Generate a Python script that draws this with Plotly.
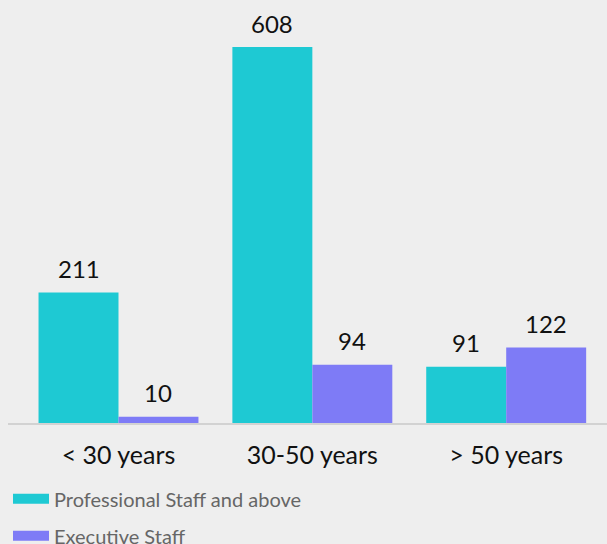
import plotly.graph_objects as go

categories = ["< 30 years", "30-50 years", "> 50 years"]
professional = [211, 608, 91]
executive = [10, 94, 122]
series_names = ["Professional Staff and above", "Executive Staff"]
colors = ["#1ec9d3", "#7e7bf6"]

W, H = 607, 544
ML, MR = 8, 0
X_RANGE = [-0.57, 2.52]
BARGAP = 0.175

fig = go.Figure()
for name, vals, col in zip(series_names, [professional, executive], colors):
    fig.add_trace(go.Bar(
        x=categories, y=vals, name=name, marker=dict(color=col, line=dict(width=0)),
        showlegend=False, hoverinfo="skip",
    ))
# legend entries as wide swatches
for i, (name, col) in enumerate(zip(series_names, colors)):
    fig.add_trace(go.Scatter(
        x=[None], y=[None], mode="lines", name=name,
        line=dict(color=col, width=13), legendgroup=f"g{i}",
    ))

# value labels above bars (centred on each bar of the group)
px_per_cat = (W - ML - MR) / (X_RANGE[1] - X_RANGE[0])
bar_w = px_per_cat * (1 - BARGAP) / 2
for j, vals in enumerate([professional, executive]):
    shift = (j - 0.5) * bar_w
    for c, v in zip(categories, vals):
        fig.add_annotation(
            x=c, y=v, text=str(v), showarrow=False, xshift=shift,
            yanchor="middle", yshift=24,
            font=dict(family="Lato", size=24, color="#111111"),
        )

fig.update_layout(
    width=W, height=H,
    paper_bgcolor="#eeeeee", plot_bgcolor="#eeeeee",
    font=dict(family="Lato", color="#111111"),
    barmode="group", bargap=BARGAP, bargroupgap=0,
    margin=dict(l=ML, r=MR, t=0, b=0, autoexpand=False),
    xaxis=dict(
        range=X_RANGE, showgrid=False, zeroline=False,
        showline=True, linecolor="#d2d2d2", linewidth=2,
        tickfont=dict(family="Lato", size=25, color="#111111"),
        ticks="", ticklabelstandoff=9, automargin=False,
    ),
    yaxis=dict(
        domain=[121 / 544, 1], range=[0, 684], visible=False,
        showgrid=False, zeroline=False, automargin=False,
    ),
    legend=dict(
        orientation="v", x=0, xanchor="left", y=0.119, yanchor="top",
        font=dict(family="Lato", size=20, color="#666666"),
        bgcolor="rgba(0,0,0,0)", itemwidth=36, tracegroupgap=8,
    ),
)

fig.write_html(
    "out.html",
    config={"displayModeBar": False},
    post_script="document.body.style.margin='0';document.body.style.background='#eeeeee';",
)
